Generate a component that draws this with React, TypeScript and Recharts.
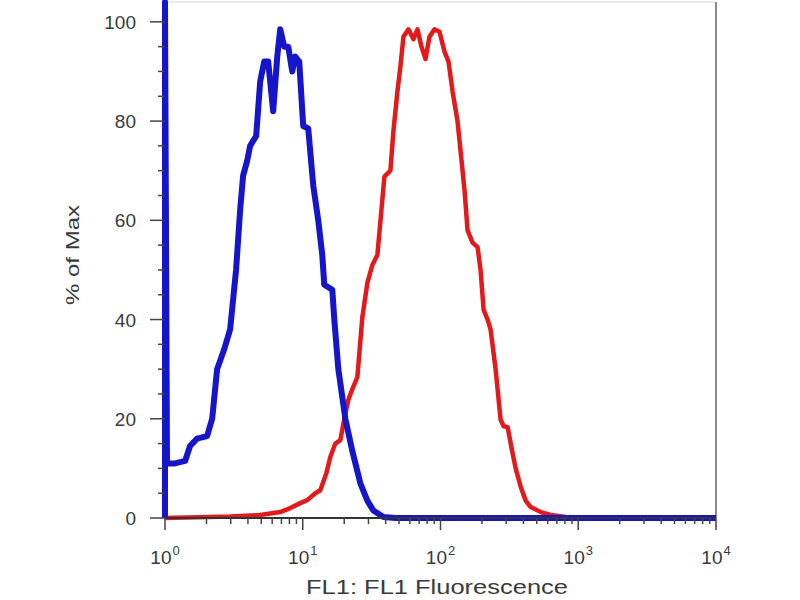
import { LineChart, Line, XAxis, YAxis, ReferenceLine } from "recharts";

// Flow histogram: % of Max vs FL1 fluorescence (log axis)
const BLUE_X = [
  1, 1, 1.034, 1.18, 1.4, 1.52, 1.71, 2.02, 2.2, 2.39, 2.69, 2.97, 3.28, 3.51, 3.69,
  3.95, 4.15, 4.59, 4.91, 5.25, 5.61, 6.1, 6.53, 6.86, 7.34, 7.85, 8.39, 8.82, 9.43,
  10.08, 10.96, 11.92, 12.96, 13.86, 14.33, 16.39, 16.95, 18.13, 20.38, 22.91, 26.19,
  29.45, 32.56, 38.51, 47.08, 10000,
];
const BLUE_Y = [
  0, 104, 11, 11, 11.5, 14.5, 16, 16.5, 20, 30, 34, 38, 50, 62, 69, 72, 75, 77, 88, 92,
  92, 82, 93, 98.5, 95, 95, 90, 93, 92, 79, 78.5, 67, 60, 53, 47, 46, 40, 30, 20, 13.5,
  7, 3.5, 1.5, 0.2, 0, 0,
];

const RED_X = [
  1, 2.97, 4.91, 6.86, 8.11, 9.59, 10.78, 12.33, 13.41, 14.83, 15.85, 17.23, 18.74,
  20.04, 21.42, 23.3, 24.91, 27.09, 29.45, 32.02, 34.82, 37.23, 39.15, 43.29, 45.52,
  48.68, 51.18, 53.82, 58.53, 63.63, 68.04, 72.75, 77.8, 83.18, 90.44, 98.33, 106.9,
  114.3, 122.3, 132.9, 139.8, 149.5, 157.2, 170.9, 185.8, 195.4, 205.5, 219.8, 231.0,
  251.2, 273.2, 287.2, 307.2, 328.5, 351.2, 381.9, 415.2, 451.3, 533.8, 631.0, 811.3,
  1043, 10000,
];
const RED_Y = [
  0, 0.3, 0.6, 1.2, 2, 3, 3.6, 5, 5.6, 9, 12.3, 15, 15.7, 20, 23.8, 26.5, 28.4, 40.5,
  47.4, 51, 53, 62, 68.8, 70, 78, 86, 91, 97, 98.5, 96.5, 98.5, 95, 92.5, 97, 98.5, 98, 94,
  92, 86, 80, 74, 66, 58, 55.5, 54.6, 50, 42, 40, 38, 30, 19.8, 18.5, 18.3, 14, 10, 6.3,
  3.5, 2.2, 1.2, 0.6, 0.2, 0, 0,
];

const X_TICKS = [
  1, 2, 3, 4, 5, 6, 7, 8, 9, 10, 20, 30, 40, 50, 60, 70, 80, 90, 100, 200, 300, 400, 500,
  600, 700, 800, 900, 1000, 2000, 3000, 4000, 5000, 6000, 7000, 8000, 9000, 10000,
];
const Y_TICKS = [0, 5, 10, 15, 20, 25, 30, 35, 40, 45, 50, 55, 60, 65, 70, 75, 80, 85, 90, 95, 100];

const blue = BLUE_X.map((x, i) => ({ x, y: BLUE_Y[i] }));
const red = RED_X.map((x, i) => ({ x, y: RED_Y[i] }));

const FONT = "'Liberation Sans', Arial, Helvetica, sans-serif";
const TEXT = "#3a3a3a";

function XTick({ x, y, payload }: any) {
  const v = payload.value;
  const e = Math.round(Math.log10(v));
  const major = Math.abs(Math.pow(10, e) - v) < 1e-6;
  return (
    <g>
      <line x1={x} y1={y} x2={x} y2={y + (major ? 12 : 6)} stroke="#444" strokeWidth={1.5} />
      {major && (
        <text x={x} y={y + 46} textAnchor="middle" fontSize={19} fill={TEXT} fontFamily={FONT}>
          10
          <tspan dx={1} dy={-9} fontSize={13}>
            {e}
          </tspan>
        </text>
      )}
    </g>
  );
}

function YTick({ x, y, payload }: any) {
  const v = payload.value;
  const major = v % 20 === 0;
  return (
    <g>
      <line x1={x - (major ? 15 : 7)} y1={y} x2={x} y2={y} stroke="#444" strokeWidth={1.5} />
      {major && (
        <text x={x - 29} y={y + 7} textAnchor="end" fontSize={19} fill={TEXT} fontFamily={FONT}>
          {v}
        </text>
      )}
    </g>
  );
}

export default function App() {
  return (
    <div style={{ position: "absolute", left: 0, top: 0, width: 800, height: 600, background: "#fff" }}>
      <LineChart width={800} height={600} margin={{ top: 2, right: 84, bottom: 52, left: 105 }}>
        <XAxis
          type="number"
          dataKey="x"
          scale="log"
          domain={[1, 10000]}
          ticks={X_TICKS}
          interval={0}
          tick={<XTick />}
          tickLine={false}
          tickSize={0}
          tickMargin={0}
          height={30}
          axisLine={{ stroke: "#333", strokeWidth: 2 }}
          label={{
            value: "FL1: FL1 Fluorescence",
            content: () => (
              <text
                x={437}
                y={594}
                textAnchor="middle"
                fontSize={20}
                fill={TEXT}
                fontFamily={FONT}
                textLength={262}
                lengthAdjust="spacingAndGlyphs"
              >
                FL1: FL1 Fluorescence
              </text>
            ),
          }}
        />
        <YAxis
          type="number"
          dataKey="y"
          domain={[0, 104]}
          ticks={Y_TICKS}
          interval={0}
          tick={<YTick />}
          tickLine={false}
          tickSize={0}
          tickMargin={0}
          width={60}
          axisLine={{ stroke: "#1515c9", strokeWidth: 4 }}
          label={{
            value: "% of Max",
            content: () => (
              <text
                x={79}
                y={255}
                transform="rotate(-90 79 255)"
                textAnchor="middle"
                fontSize={19}
                fill={TEXT}
                fontFamily={FONT}
                textLength={100}
                lengthAdjust="spacingAndGlyphs"
              >
                % of Max
              </text>
            ),
          }}
        />
        <ReferenceLine y={104} stroke="#e2e2e2" strokeWidth={1.5} />
        <ReferenceLine x={10000} stroke="#8a8a8a" strokeWidth={2} />
        <Line
          data={red}
          dataKey="y"
          type="linear"
          stroke="#e31a1c"
          strokeWidth={4.5}
          strokeLinejoin="round"
          dot={false}
          activeDot={false}
          isAnimationActive={false}
        />
        <Line
          data={blue}
          dataKey="y"
          type="linear"
          stroke="#1515c9"
          strokeWidth={6}
          strokeLinejoin="round"
          dot={false}
          activeDot={false}
          isAnimationActive={false}
        />
      </LineChart>
    </div>
  );
}
